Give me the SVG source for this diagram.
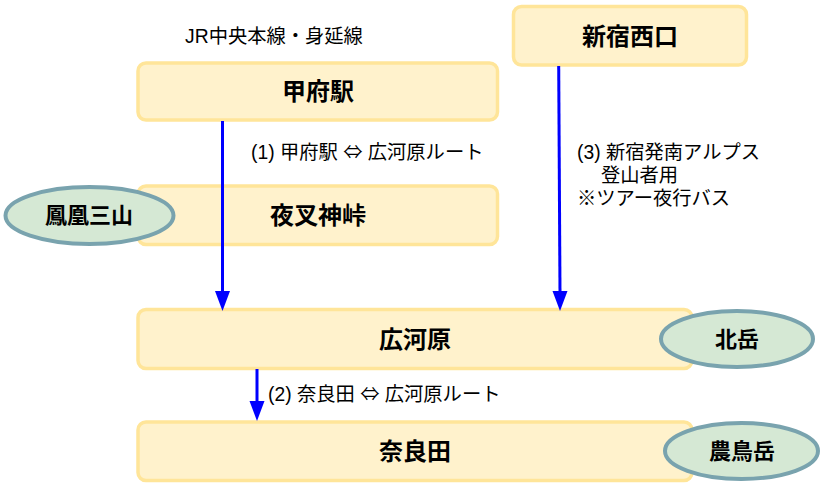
<svg xmlns="http://www.w3.org/2000/svg" width="832" height="498" viewBox="0 0 832 498">
<style>
.box{fill:#fff2cc;stroke:#ffe599;stroke-width:3.5}
.mt{fill:#d5e8d4;stroke:#79a3ae;stroke-width:4}
.bl{font-family:"Liberation Sans","Noto Sans CJK JP",sans-serif;font-weight:bold;font-size:24px;fill:#000;text-anchor:middle}
.ml{font-family:"Liberation Sans","Noto Sans CJK JP",sans-serif;font-weight:bold;font-size:22px;fill:#000;text-anchor:middle}
.lb{font-family:"Liberation Sans","Noto Sans CJK JP",sans-serif;font-size:19.3px;fill:#000}
.ar{font-family:"Noto Sans CJK JP",sans-serif}
.ln{stroke:#0000ff;stroke-width:3;fill:none}
.hd{fill:#0000ff}
</style>
<rect width="832" height="498" fill="#ffffff"/>
<g id="kofu"><rect class="box" x="138" y="63" width="359.5" height="57" rx="8"/><text class="bl" x="318" y="100">甲府駅</text></g>
<g id="yashajin"><rect class="box" x="138" y="186" width="359.5" height="58.5" rx="8"/><text class="bl" x="318" y="224">夜叉神峠</text></g>
<g id="shinjuku"><rect class="box" x="513.5" y="6.5" width="233" height="58.5" rx="8"/><text class="bl" x="630" y="45">新宿西口</text></g>
<g id="hirogawara"><rect class="box" x="138" y="309.5" width="554" height="59" rx="8"/><text class="bl" x="415" y="348">広河原</text></g>
<g id="narada"><rect class="box" x="138" y="422" width="554" height="58.5" rx="8"/><text class="bl" x="415" y="460">奈良田</text></g>
<g id="connectors">
<line class="ln" x1="222.5" y1="121" x2="222.5" y2="293"/>
<polygon class="hd" points="215,291 230,291 222.5,311"/>
<line class="ln" x1="558.7" y1="66" x2="560" y2="293"/>
<polygon class="hd" points="552.5,291 567.5,291 560,311"/>
<line class="ln" x1="257" y1="369" x2="257" y2="403"/>
<polygon class="hd" points="249.5,401 264.5,401 257,421"/>
</g>
<g id="labels">
<text class="lb" x="274" y="43" text-anchor="middle">JR中央本線・身延線</text>
<text class="lb" x="251" y="159">(1) 甲府駅 <tspan class="ar">⇔</tspan> 広河原ルート</text>
<text class="lb" x="577" y="159">(3) 新宿発南アルプス</text>
<text class="lb" x="601" y="182">登山者用</text>
<text class="lb" x="577" y="205">※ツアー夜行バス</text>
<text class="lb" x="268" y="401">(2) 奈良田 <tspan class="ar">⇔</tspan> 広河原ルート</text>
</g>
<g id="hoou"><ellipse class="mt" cx="89.5" cy="215.5" rx="84" ry="28.5"/><text class="ml" x="89" y="223">鳳凰三山</text></g>
<g id="kitadake"><ellipse class="mt" cx="737" cy="339" rx="76" ry="28"/><text class="ml" x="737" y="347">北岳</text></g>
<g id="notori"><ellipse class="mt" cx="741.5" cy="451" rx="76.5" ry="28"/><text class="ml" x="742" y="459">農鳥岳</text></g>
</svg>
